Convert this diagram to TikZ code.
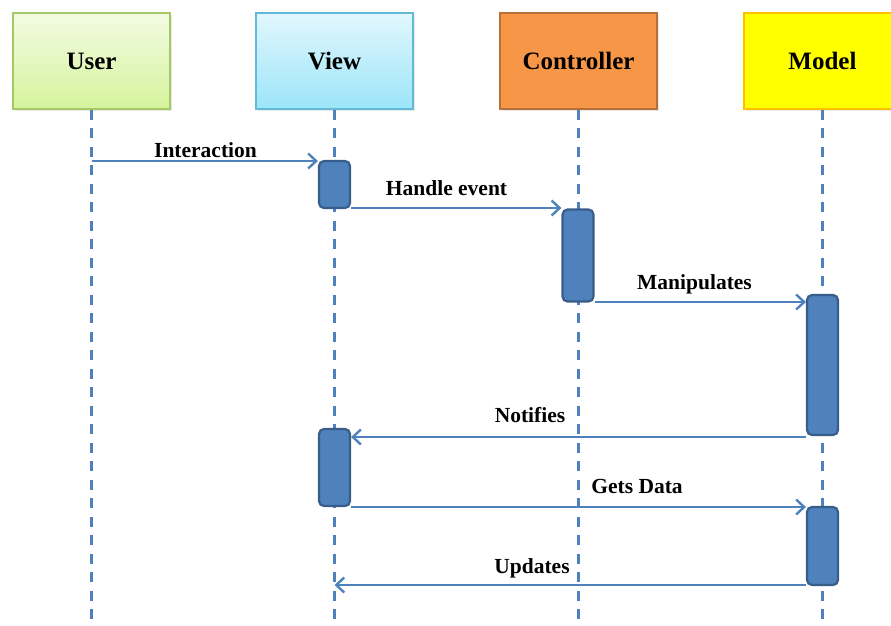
\documentclass[tikz,border=0pt]{standalone}
\usepackage{fontspec}
\setmainfont{Liberation Serif}
\usetikzlibrary{arrows.meta,calc,shadows}

\definecolor{laneblue}{HTML}{4F81BD}
\definecolor{actfill}{HTML}{4F81BD}
\definecolor{actline}{HTML}{385D8A}
\definecolor{userline}{HTML}{A6C864}
\definecolor{usertop}{HTML}{F3FBE3}
\definecolor{userbot}{HTML}{D5F49C}
\definecolor{viewline}{HTML}{62BAD6}
\definecolor{viewtop}{HTML}{E2F7FD}
\definecolor{viewbot}{HTML}{9CE5FA}
\definecolor{ctrlfill}{HTML}{F79646}
\definecolor{ctrlline}{HTML}{B8703A}
\definecolor{modelfill}{HTML}{FFFF00}
\definecolor{modelline}{HTML}{FFC000}

\tikzset{
  header/.style={draw, line width=1.6pt, minimum width=157pt, minimum height=96pt,
    inner sep=0pt, text height=17pt, text depth=0pt,
    drop shadow={shadow xshift=1.5pt, shadow yshift=-2pt, opacity=0.18},
    font=\fontsize{25}{25}\selectfont\bfseries},
  lifeline/.style={laneblue, line width=3pt, dash pattern=on 10pt off 8.5pt},
  activation/.style={draw=actline, fill=actfill, line width=2.2pt, rounded corners=5pt,
    minimum width=31pt, inner sep=0pt},
  msg/.style={laneblue, line width=2.6pt, -{Straight Barb[length=8pt,width=15pt,line width=2.4pt]}},
  msglabel/.style={anchor=base, inner sep=0pt, font=\fontsize{21.5}{21.5}\selectfont\bfseries},
}

\begin{document}
\begin{tikzpicture}[x=1pt, y=-1pt]
\useasboundingbox (0,0) rectangle (891,625);
\clip (0,0) rectangle (891,625);

% participants
\node[header, draw=userline, top color=usertop, bottom color=userbot] (user) at (91.5,61) {User};
\node[header, draw=viewline, top color=viewtop, bottom color=viewbot] (view) at (334.5,61) {View};
\node[header, draw=ctrlline, fill=ctrlfill] (ctrl) at (578.5,61) {Controller};
\node[header, draw=modelline, fill=modelfill] (model) at (822.5,61) {Model};

% ends of the lifelines
\coordinate (userend)  at (91.5,630);
\coordinate (viewend)  at (334.5,630);
\coordinate (ctrlend)  at (578.5,630);
\coordinate (modelend) at (822.5,630);

\draw[lifeline] (user.south)  -- (userend);
\draw[lifeline] (view.south)  -- (viewend);
\draw[lifeline] (ctrl.south)  -- (ctrlend);
\draw[lifeline] (model.south) -- (modelend);

% activation bars
\node[activation, minimum height=47pt]  (v1) at (334.5,184.5) {};
\node[activation, minimum height=92pt]  (c1) at (578,255.5) {};
\node[activation, minimum height=140pt] (m1) at (822.5,365) {};
\node[activation, minimum height=77pt]  (v2) at (334.5,467.5) {};
\node[activation, minimum height=78pt]  (m2) at (822.5,546) {};

% message levels
\coordinate (y1) at (0,161);
\coordinate (y2) at (0,208);
\coordinate (y3) at (0,302);
\coordinate (y4) at (0,437);
\coordinate (y5) at (0,507);
\coordinate (y6) at (0,585);

% messages
\draw[msg] (user.south |- y1) -- (v1.west |- y1);
\draw[msg] (v1.east |- y2) -- (c1.west |- y2);
\draw[msg] (c1.east |- y3) -- (m1.west |- y3);
\draw[msg] (m1.west |- y4) -- (v2.east |- y4);
\draw[msg] (v2.east |- y5) -- (m2.west |- y5);
\draw[msg] (m2.west |- y6) -- (view.south |- y6);

% message labels
\node[msglabel] (l1) at (205.5,157) {Interaction};
\node[msglabel] (l2) at (446.5,195) {Handle event};
\node[msglabel] (l3) at (694.5,289) {Manipulates};
\node[msglabel] (l4) at (530,422) {Notifies};
\node[msglabel] (l5) at (637,493) {Gets Data};
\node[msglabel] (l6) at (532,573) {Updates};
\end{tikzpicture}
\end{document}
